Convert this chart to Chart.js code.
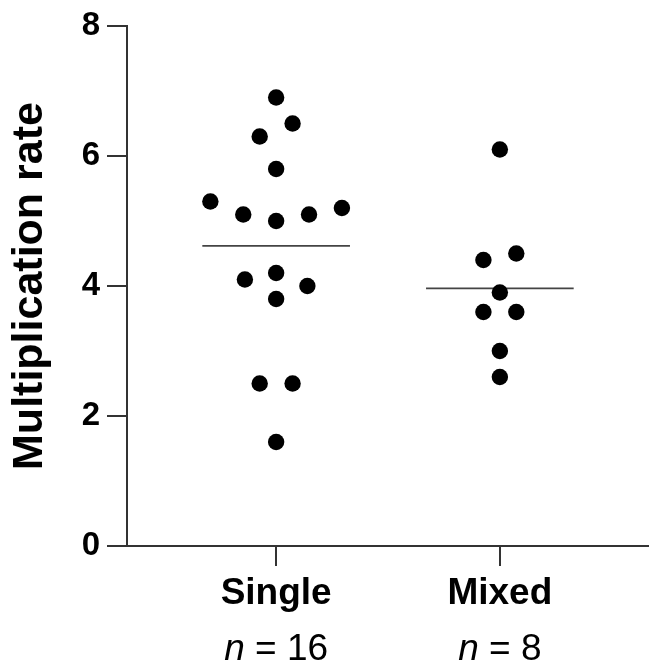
<!DOCTYPE html>
<html>
<head>
<meta charset="utf-8">
<script src="https://cdn.jsdelivr.net/npm/chart.js@4/dist/chart.umd.min.js"></script>
<style>
  html, body { margin: 0; padding: 0; background: #fff; }
  #wrap { width: 649px; height: 663px; }
</style>
</head>
<body>
<div id="wrap"><canvas id="c" width="649" height="663"></canvas></div>
<script>
// ---- data ----
const categories = ['Single', 'Mixed'];
const singleValues = [6.9, 6.5, 6.3, 5.8, 5.3, 5.1, 5.0, 5.1, 5.2, 4.2, 4.1, 4.0, 3.8, 2.5, 2.5, 1.6];
const singleSlots  = [0, 1, -1, 0, -4, -2, 0, 2, 4, 0, -1.9, 1.9, 0, -1, 1, 0];
const mixedValues  = [6.1, 4.5, 4.4, 3.9, 3.6, 3.6, 3.0, 2.6];
const mixedSlots   = [0, 1, -1, 0, -1, 1, 0, 0];
const yTicks = [0, 2, 4, 6, 8];
const yTitle = 'Multiplication rate';

// ---- build ----
const groups = [
  { values: singleValues, slots: singleSlots },
  { values: mixedValues, slots: mixedSlots }
];
const SLOT = 0.0735;      // horizontal spacing of swarm dots (category units)
const MEAN_HALF = 0.33;   // half width of mean line (category units)
const FONT = '"Liberation Sans", Arial, Helvetica, sans-serif';

const datasets = [];
groups.forEach((g, i) => {
  datasets.push({
    type: 'scatter',
    data: g.values.map((v, k) => ({ x: i + g.slots[k] * SLOT, y: v })),
    pointRadius: 8.2,
    pointHoverRadius: 8.2,
    pointBackgroundColor: '#000',
    pointBorderWidth: 0,
    order: 1
  });
  const mean = g.values.reduce((a, b) => a + b, 0) / g.values.length;
  datasets.push({
    type: 'line',
    data: [{ x: i - MEAN_HALF, y: mean }, { x: i + MEAN_HALF, y: mean }],
    borderColor: '#444',
    borderWidth: 1.8,
    pointRadius: 0,
    fill: false,
    order: 2
  });
});

const nLabelPlugin = {
  id: 'nLabels',
  afterDraw(chart) {
    const ctx = chart.ctx;
    const xs = chart.scales.x;
    ctx.save();
    ctx.fillStyle = '#000';
    ctx.textAlign = 'left';
    ctx.textBaseline = 'alphabetic';
    const italic = 'italic 37px ' + FONT;
    const reg = '37px ' + FONT;
    categories.forEach((c, i) => {
      const x = xs.getPixelForValue(i);
      const y = xs.top + 114;
      const rest = ' = ' + groups[i].values.length;
      ctx.font = italic;
      const w1 = ctx.measureText('n').width;
      ctx.font = reg;
      const w2 = ctx.measureText(rest).width;
      const start = x - (w1 + w2) / 2;
      ctx.font = italic;
      ctx.fillText('n', start, y);
      ctx.font = reg;
      ctx.fillText(rest, start + w1, y);
    });
    ctx.restore();
  }
};

new Chart(document.getElementById('c'), {
  type: 'scatter',
  data: { datasets },
  plugins: [nLabelPlugin],
  options: {
    responsive: false,
    animation: false,
    devicePixelRatio: 1,
    layout: { autoPadding: false, padding: { top: 26, left: 0, right: 0, bottom: 0 } },
    plugins: { legend: { display: false }, tooltip: { enabled: false } },
    scales: {
      x: {
        type: 'linear',
        min: -2 / 3,
        max: 5 / 3,
        afterBuildTicks: (axis) => { axis.ticks = categories.map((c, i) => ({ value: i })); },
        afterFit: (scale) => { scale.height = 117; scale.paddingLeft = 0; scale.paddingRight = 0; },
        ticks: {
          callback: (v) => categories[Math.round(v)],
          color: '#000',
          padding: 6,
          font: { family: FONT, size: 37, weight: 'bold', lineHeight: 1.2 },
          maxRotation: 0
        },
        grid: { drawOnChartArea: false, drawTicks: true, tickLength: 20, color: '#333', lineWidth: 2 },
        border: { display: true, color: '#333', width: 2 }
      },
      y: {
        min: 0,
        max: 8,
        afterBuildTicks: (axis) => { axis.ticks = yTicks.map(v => ({ value: v })); },
        afterFit: (scale) => { scale.width = 127; scale.paddingTop = 0; scale.paddingBottom = 0; },
        ticks: {
          color: '#000',
          padding: 7,
          font: { family: FONT, size: 33, weight: 'bold', lineHeight: 1.2 }
        },
        grid: { drawOnChartArea: false, drawTicks: true, tickLength: 20, color: '#333', lineWidth: 2 },
        border: { display: true, color: '#333', width: 2 },
        title: {
          display: true,
          text: yTitle,
          color: '#000',
          font: { family: FONT, size: 43, weight: 'bold', lineHeight: 1.2 },
          padding: { top: 4, bottom: 0 }
        }
      }
    }
  }
});
</script>
</body>
</html>
